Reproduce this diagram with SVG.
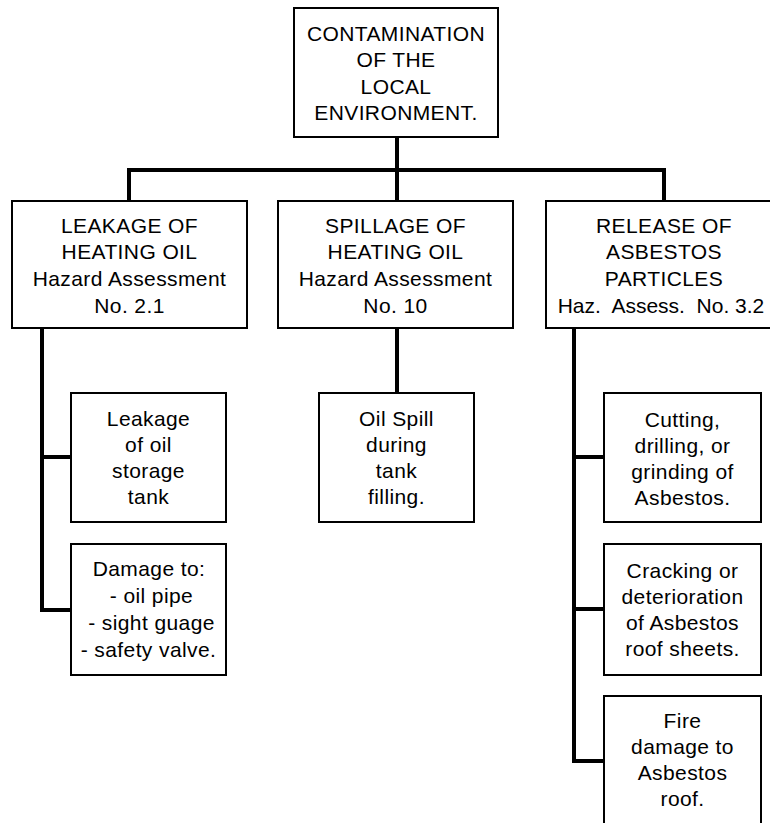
<svg xmlns="http://www.w3.org/2000/svg" width="770" height="823" viewBox="0 0 770 823">
<style>
.box{fill:#fff;stroke:#000;stroke-width:2}
.t{font-family:"Liberation Sans",Arial,Helvetica,sans-serif;font-size:21px;fill:#000;text-anchor:middle;white-space:pre;letter-spacing:0.4px}
.c{fill:none;stroke:#000;stroke-width:4;stroke-linecap:square;stroke-linejoin:miter}
</style>
<rect width="770" height="823" fill="#fff"/>
<g id="connectors">
<path class="c" d="M397,139 V199"/>
<path class="c" d="M129,199 V170 H664 V199"/>
<path class="c" d="M42,330 V610 H70"/>
<path class="c" d="M42,457 H70"/>
<path class="c" d="M397,330 V391"/>
<path class="c" d="M574,330 V761 H602"/>
<path class="c" d="M574,457 H602"/>
<path class="c" d="M574,609 H602"/>
</g>
<g id="root">
<rect class="box" x="294" y="8" width="204" height="129"/>
<text class="t" x="396" y="41">CONTAMINATION</text>
<text class="t" x="396" y="67">OF THE</text>
<text class="t" x="396" y="94">LOCAL</text>
<text class="t" x="396" y="120">ENVIRONMENT.</text>
</g>
<g id="leakage">
<rect class="box" x="12" y="201" width="235" height="127"/>
<text class="t" x="129.5" y="233">LEAKAGE OF</text>
<text class="t" x="129.5" y="259">HEATING OIL</text>
<text class="t" x="129.5" y="286">Hazard Assessment</text>
<text class="t" x="129.5" y="313">No. 2.1</text>
</g>
<g id="spillage">
<rect class="box" x="278" y="201" width="235" height="127"/>
<text class="t" x="395.5" y="233">SPILLAGE OF</text>
<text class="t" x="395.5" y="259">HEATING OIL</text>
<text class="t" x="395.5" y="286">Hazard Assessment</text>
<text class="t" x="395.5" y="313">No. 10</text>
</g>
<g id="release">
<rect class="box" x="546" y="201" width="236" height="127"/>
<text class="t" x="664" y="233">RELEASE OF</text>
<text class="t" x="664" y="259">ASBESTOS</text>
<text class="t" x="664" y="286">PARTICLES</text>
<text class="t" x="661" y="313" style="letter-spacing:0" xml:space="preserve">Haz.  Assess.  No. 3.2</text>
</g>
<g id="leak-tank">
<rect class="box" x="71" y="393" width="155" height="129"/>
<text class="t" x="148.5" y="426">Leakage</text>
<text class="t" x="148.5" y="452">of oil</text>
<text class="t" x="148.5" y="478">storage</text>
<text class="t" x="148.5" y="504">tank</text>
</g>
<g id="damage">
<rect class="box" x="71" y="544" width="155" height="131"/>
<text class="t" x="149" y="576">Damage to:</text>
<text class="t" x="151.5" y="603">- oil pipe</text>
<text class="t" x="151.5" y="630">- sight guage</text>
<text class="t" x="148.5" y="657">- safety valve.</text>
</g>
<g id="oil-spill">
<rect class="box" x="319" y="393" width="155" height="129"/>
<text class="t" x="396.5" y="426">Oil Spill</text>
<text class="t" x="396.5" y="452">during</text>
<text class="t" x="396.5" y="478">tank</text>
<text class="t" x="396.5" y="504">filling.</text>
</g>
<g id="cutting">
<rect class="box" x="604" y="393" width="157" height="129"/>
<text class="t" x="682.5" y="427">Cutting,</text>
<text class="t" x="682.5" y="453">drilling, or</text>
<text class="t" x="682.5" y="479">grinding of</text>
<text class="t" x="682.5" y="505">Asbestos.</text>
</g>
<g id="cracking">
<rect class="box" x="604" y="544" width="157" height="131"/>
<text class="t" x="682.5" y="578">Cracking or</text>
<text class="t" x="682.5" y="604">deterioration</text>
<text class="t" x="682.5" y="630">of Asbestos</text>
<text class="t" x="682.5" y="656">roof sheets.</text>
</g>
<g id="fire">
<rect class="box" x="604" y="696" width="157" height="150"/>
<text class="t" x="682.5" y="728">Fire</text>
<text class="t" x="682.5" y="754">damage to</text>
<text class="t" x="682.5" y="780">Asbestos</text>
<text class="t" x="682.5" y="806">roof.</text>
</g>
</svg>
